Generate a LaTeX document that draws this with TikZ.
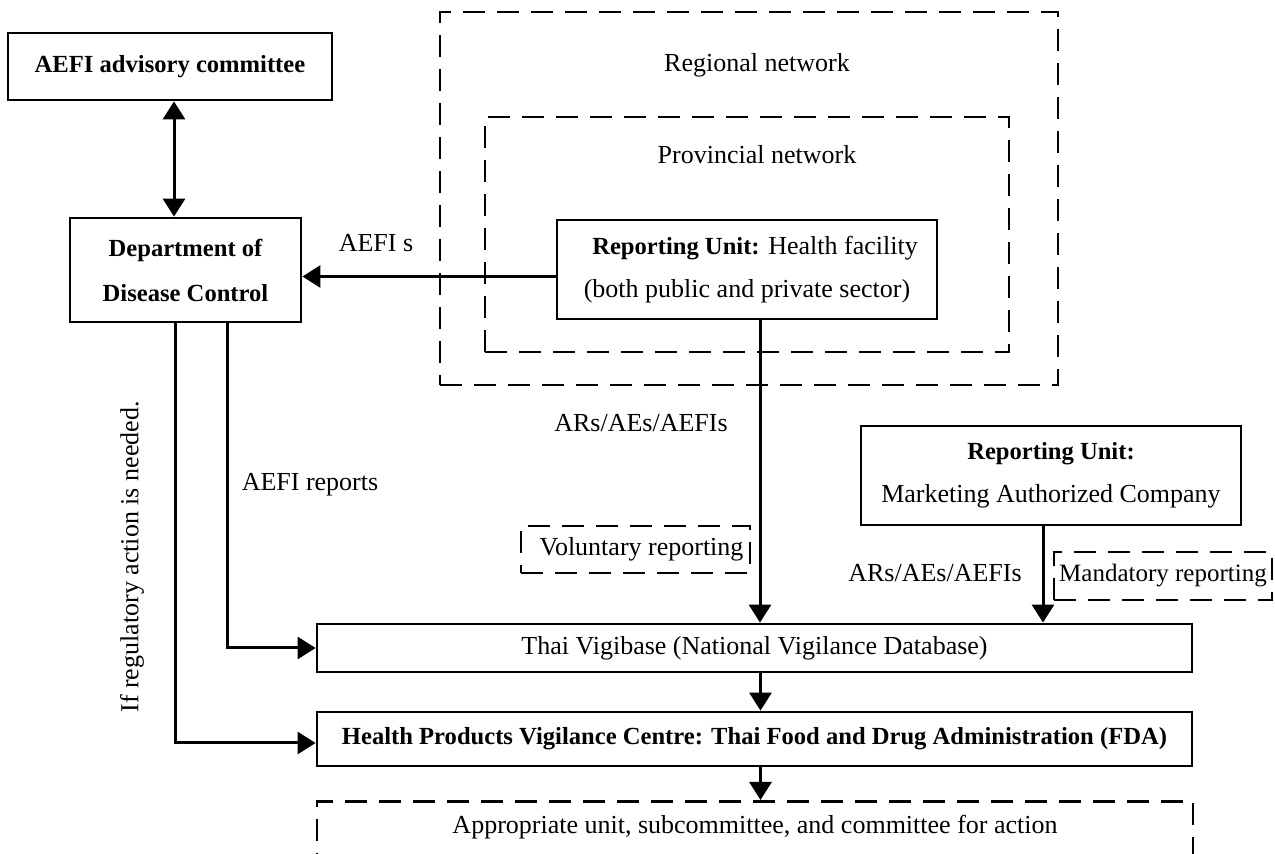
\documentclass[tikz,border=0pt]{standalone}
\usepackage{fontspec}
\setmainfont{Liberation Serif}
\usetikzlibrary{arrows.meta}
\begin{document}
\begin{tikzpicture}[x=0.5pt,y=-0.5pt,
  every node/.style={font=\fontsize{13}{15}\selectfont, inner sep=0pt},
  boldtxt/.style={font=\fontsize{12.3}{15}\selectfont\bfseries},
  solidbox/.style={draw, line width=1.4pt, rectangle},
  dashbox/.style={draw, line width=1.4pt, rectangle, dash pattern=on 11pt off 6pt},
  lbl/.style={},
  arr/.style={line width=1.5pt, -{Triangle[length=9pt,width=11pt]}},
  darr/.style={line width=1.5pt, {Triangle[length=9pt,width=11pt]}-{Triangle[length=9pt,width=11pt]}}
]
\useasboundingbox (0,0) rectangle (1275,854);
\clip (0,0) rectangle (1275,854);

% containers
\node[dashbox, minimum width=309pt, minimum height=186.5pt] (reg) at (749,198.5) {};
\node[dashbox, minimum width=262pt, minimum height=117.5pt] (prov) at (747,234.5) {};
\node[lbl] (regl) at (757,65) {Regional network};
\node[lbl] (provl) at (757,155) {Provincial network};

% boxes
\node[solidbox, boldtxt, minimum width=162pt, minimum height=33.5pt] (adv) at (170,66.5) {AEFI advisory committee};
\node[solidbox, minimum width=115.5pt, minimum height=52pt, align=center, font=\fontsize{12.3}{22.5}\selectfont\bfseries] (ddc) at (185.5,270) {Department of\\Disease Control};
\node[solidbox, minimum width=190pt, minimum height=49.5pt, align=center, font=\fontsize{13}{21.5}\selectfont] (hf) at (747,269.5) {\hspace*{8pt}{\fontsize{12.3}{21.5}\selectfont\bfseries Reporting Unit:} Health facility\\(both public and private sector)};
\node[solidbox, minimum width=190pt, minimum height=49.5pt, align=center, font=\fontsize{13}{21.5}\selectfont] (mac) at (1051,475.5) {{\fontsize{12.3}{21.5}\selectfont\bfseries Reporting Unit:}\\Marketing Authorized Company};
\node[dashbox, minimum width=114.5pt, minimum height=23.5pt] (vol) at (635.5,549.5) {\hspace*{6pt}Voluntary reporting};
\node[dashbox, minimum width=109pt, minimum height=24pt, font=\fontsize{12.5}{15}\selectfont] (man) at (1163,576) {Mandatory reporting};
\node[solidbox, minimum width=437.5pt, minimum height=24pt] (vig) at (754.5,648) {Thai Vigibase (National Vigilance Database)};
\node[solidbox, boldtxt, minimum width=437.5pt, minimum height=27pt] (hpvc) at (754.5,739) {Health Products Vigilance Centre: Thai Food and Drug Administration (FDA)};
\node[dashbox, minimum width=438pt, minimum height=50pt, anchor=north] (act) at (755,800) {};
\node[lbl] (actl) at (755,827) {Appropriate unit, subcommittee, and committee for action};

% labels
\node[lbl] (l1) at (376,243) {AEFI s};
\node[lbl] (l2) at (641,423) {ARs/AEs/AEFIs};
\node[lbl] (l3) at (935,573) {ARs/AEs/AEFIs};
\node[lbl] (l4) at (310,485) {AEFI reports};
\node[lbl, rotate=90] (l5) at (132,557) {If regulatory action is needed.};

% connectors
\draw[darr] ([xshift=2pt]adv.south) -- ([xshift=2pt]adv.south |- ddc.north);
\draw[arr] ([yshift=-3.5pt]hf.west) -- ([yshift=-3.5pt]hf.west -| ddc.east);
\draw[arr] ([xshift=6.5pt]hf.south) -- ([xshift=6.5pt]hf.south |- vig.north);
\draw[arr] ([xshift=-4pt]mac.south) -- ([xshift=-4pt]mac.south |- vig.north);
\draw[arr] ([xshift=3pt]vig.south) -- ([xshift=3pt]vig.south |- hpvc.north);
\draw[arr] ([xshift=3pt]hpvc.south) -- ([xshift=3pt]hpvc.south |- act.north);
\draw[arr] ([xshift=21pt]ddc.south) |- (vig.west);
\draw[arr] ([xshift=-5pt]ddc.south) |- ([yshift=-2pt]hpvc.west);
\end{tikzpicture}
\end{document}
